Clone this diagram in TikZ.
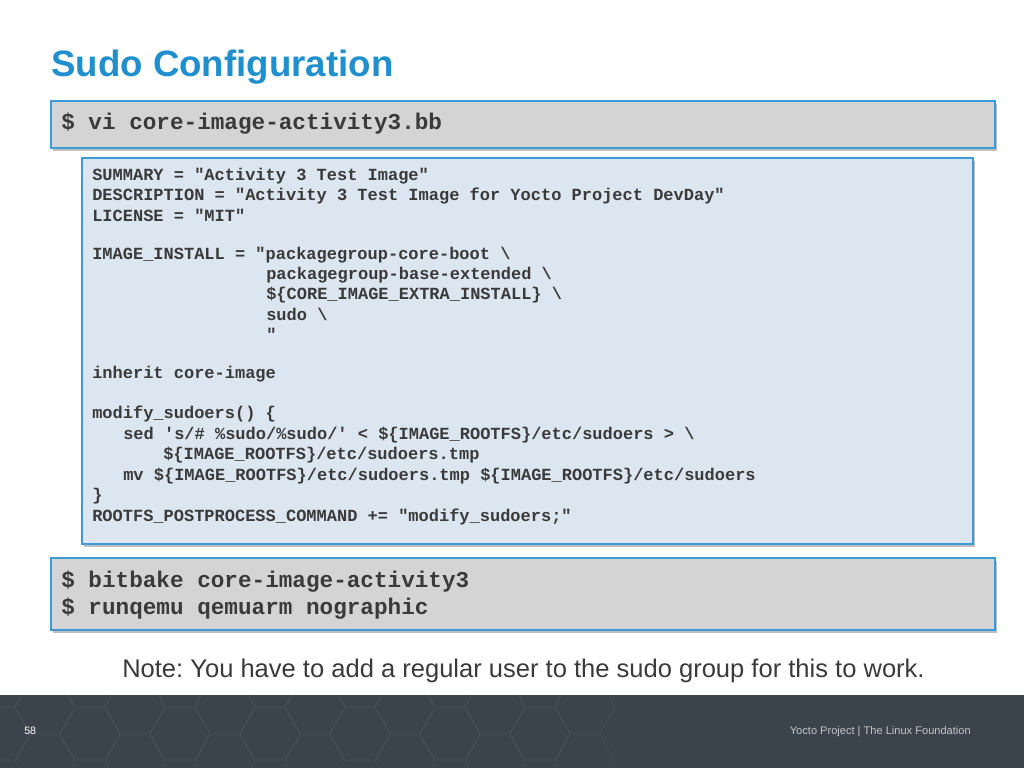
\documentclass[tikz,border=0pt]{standalone}
\usepackage{fontspec}
\setmainfont{Liberation Sans}
\setmonofont{Liberation Mono}
\frenchspacing
\definecolor{titleblue}{HTML}{1F8FCF}
\definecolor{boxline}{HTML}{3C9AD6}
\definecolor{cmdgray}{HTML}{D4D4D4}
\definecolor{codebg}{HTML}{DCE6F0}
\definecolor{codetext}{HTML}{3A3A3A}
\definecolor{footbg}{HTML}{3B434C}
\definecolor{hexline}{HTML}{46505A}
\tikzset{
  cmd/.style={anchor=base west, inner sep=0pt, font=\ttfamily\bfseries\fontsize{17}{20}\selectfont, text=codetext},
  code/.style={anchor=base west, inner sep=0pt, font=\ttfamily\bfseries\fontsize{12.75}{15}\selectfont, text=codetext},
  panel/.style={draw=boxline, line width=0.9pt},
  shade/.style={fill=black!25}
}
\begin{document}
\begin{tikzpicture}[x=0.75pt, y=-0.75pt]
  \useasboundingbox (0,0) rectangle (1024,768);
  \fill[white] (0,0) rectangle (1024,768);

  % title
  \node [anchor=base west, inner sep=0pt, text=titleblue, font=\bfseries\fontsize{27.5}{30}\selectfont] (title) at (51,76) {Sudo Configuration};

  % first command
  \fill [shade] (53,104) rectangle (997,151);
  \filldraw [panel, fill=cmdgray] (51,101) rectangle (995,148);
  \node [cmd] (vi) at (61,129) {\$ vi core-image-activity3.bb};

  % recipe
  \fill [shade] (84,161) rectangle (975,547);
  \filldraw [panel, fill=codebg] (82,158) rectangle (973,544);
  \node [code] (l1) at (92,180) {SUMMARY = "Activity 3 Test Image"};
  \node [code] (l2) at (92,200) {DESCRIPTION = "Activity 3 Test Image for Yocto Project DevDay"};
  \node [code] (l3) at (92,221) {LICENSE = "MIT"};
  \node [code] (l4) at (92,259) {IMAGE\_INSTALL = "packagegroup-core-boot \textbackslash};
  \node [code] (l5) at (266,279) {packagegroup-base-extended \textbackslash};
  \node [code] (l6) at (266,299) {\$\{CORE\_IMAGE\_EXTRA\_INSTALL\} \textbackslash};
  \node [code] (l7) at (266,320) {sudo \textbackslash};
  \node [code] (l8) at (266,340) {"};
  \node [code] (l9) at (92,378) {inherit core-image};
  \node [code] (l10) at (92,418) {modify\_sudoers() \{};
  \node [code] (l11) at (123,439) {sed 's/\# \%sudo/\%sudo/' < \$\{IMAGE\_ROOTFS\}/etc/sudoers > \textbackslash};
  \node [code] (l12) at (163,459) {\$\{IMAGE\_ROOTFS\}/etc/sudoers.tmp};
  \node [code] (l13) at (123,480) {mv \$\{IMAGE\_ROOTFS\}/etc/sudoers.tmp \$\{IMAGE\_ROOTFS\}/etc/sudoers};
  \node [code] (l14) at (92,500) {\}};
  \node [code] (l15) at (92,521) {ROOTFS\_POSTPROCESS\_COMMAND += "modify\_sudoers;"};

  % build and run
  \fill [shade] (53,561) rectangle (997,633);
  \filldraw [panel, fill=cmdgray] (51,558) rectangle (995,630);
  \node [cmd] (bb) at (61,587) {\$ bitbake core-image-activity3};
  \node [cmd] (qemu) at (61,614) {\$ runqemu qemuarm nographic};

  \node [anchor=base west, inner sep=0pt, text=codetext, font=\fontsize{19.15}{21}\selectfont] (note) at (122,677) {Note: You have to add a regular user to the sudo group for this to work.};

  % footer
  \fill [footbg] (0,695) rectangle (1024,768);
  \begin{scope}
    \clip (0,695) rectangle (1024,766);
    \foreach \i in {0,...,6} {
      \foreach \j in {0,1,2,3} {
        \pgfmathsetmacro{\cx}{\i*90 + mod(\j,2)*45}
        \pgfmathsetmacro{\cy}{680 + \j*27}
        \draw [hexline, line width=0.6pt] (\cx-30,\cy) -- (\cx-15,\cy-26) -- (\cx+15,\cy-26) -- (\cx+30,\cy) -- (\cx+15,\cy+26) -- (\cx-15,\cy+26) -- cycle;
      }
    }
  \end{scope}
  \node [anchor=base west, inner sep=0pt, text=white, font=\fontsize{8}{9}\selectfont] (page) at (24,734) {58};
  \node [anchor=base east, inner sep=0pt, text=white!70!footbg, font=\fontsize{8.3}{9}\selectfont] (foot) at (971,734) {Yocto Project | The Linux Foundation};
\end{tikzpicture}
\end{document}
